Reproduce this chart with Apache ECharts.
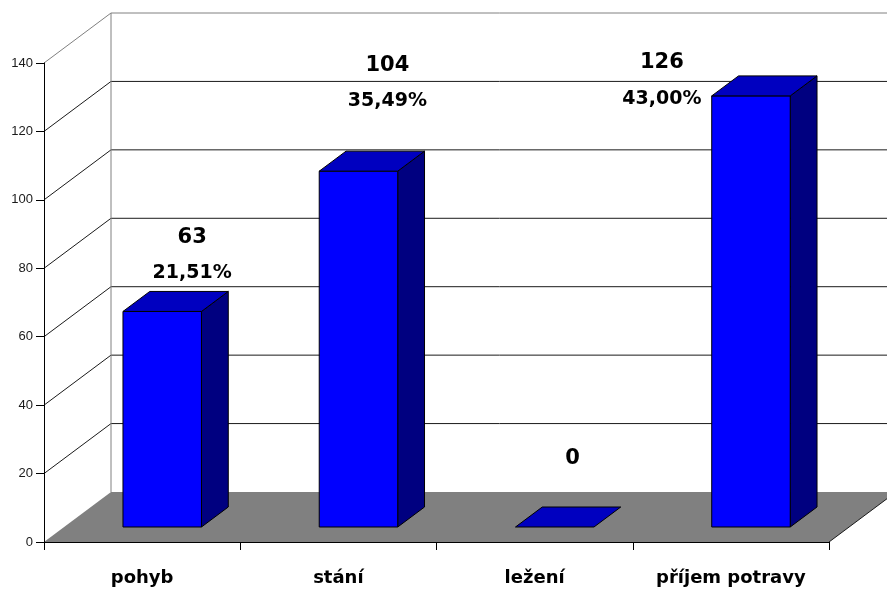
<!DOCTYPE html>
<html>
<head>
<meta charset="utf-8">
<script src="https://cdn.jsdelivr.net/npm/echarts@6/dist/echarts.min.js"></script>
<style>
  html, body { margin: 0; padding: 0; background: #ffffff; }
  #chart { width: 887px; height: 590px; }
</style>
</head>
<body>
<div id="chart"></div>
<script>
// Activity counts
const categories = ['pohyb', 'stání', 'ležení', 'příjem potravy'];
const counts = [63, 104, 0, 126];
const shares = [21.51, 35.49, null, 43.00];
const yTicks = [0, 20, 40, 60, 80, 100, 120, 140];

// Oblique depth projection: a full step back moves right and up
const DEPTH_X = 67, DEPTH_Y = -50;
const BAR_FRONT = 0.3, BAR_BACK = 0.7;   // depth fractions of bar faces
const BAR_HALF = 0.2;                     // half bar width, in band widths
// Label placement relative to the front-top centre of each bar
const labelShift = [[50, -89], [49, -121], [38, -83], [-69, -48]];
const shareGap = 36;

const LABEL_FONT = '"Comic Sans MS", "DejaVu Sans", sans-serif';

function fmtShare(p) {
  return p.toFixed(2).replace('.', ',') + '%';
}

function renderWalls(params, api) {
  const band = api.size([1, 0])[0];
  const left = api.coord([0, 0])[0] - band / 2;
  const right = api.coord([categories.length - 1, 0])[0] + band / 2;
  const y0 = api.coord([0, 0])[1];
  const yTop = api.coord([0, yTicks[yTicks.length - 1]])[1];
  const dx = DEPTH_X, dy = DEPTH_Y;
  const children = [];

  // back wall
  children.push({
    type: 'polygon',
    shape: { points: [[left + dx, yTop + dy], [right + dx, yTop + dy], [right + dx, y0 + dy], [left + dx, y0 + dy]] },
    style: { fill: '#ffffff' }
  });
  // side wall
  children.push({
    type: 'polygon',
    shape: { points: [[left, y0], [left, yTop], [left + dx, yTop + dy], [left + dx, y0 + dy]] },
    style: { fill: '#ffffff' }
  });
  // floor
  children.push({
    type: 'polygon',
    shape: { points: [[left, y0], [right, y0], [right + dx, y0 + dy], [left + dx, y0 + dy]] },
    style: { fill: '#808080' }
  });
  // grid lines across side wall and back wall
  yTicks.forEach(function (t) {
    if (t === 0) return;
    const y = api.coord([0, t])[1];
    const isTop = t === yTicks[yTicks.length - 1];
    const col = isTop ? '#808080' : '#1a1a1a';
    children.push({
      type: 'polyline',
      shape: { points: [[left, y], [left + dx, y + dy], [right + dx, y + dy]] },
      style: { stroke: col, lineWidth: 1, fill: null }
    });
  });
  // back wall left edge
  children.push({
    type: 'line',
    shape: { x1: left + dx, y1: yTop + dy, x2: left + dx, y2: y0 + dy },
    style: { stroke: '#808080', lineWidth: 1 }
  });
  // floor right edge
  children.push({
    type: 'line',
    shape: { x1: right, y1: y0, x2: right + dx, y2: y0 + dy },
    style: { stroke: '#1a1a1a', lineWidth: 1 }
  });
  return { type: 'group', children: children };
}

function renderBar(params, api) {
  const i = api.value(0);
  const v = api.value(1);
  const band = api.size([1, 0])[0];
  const top = api.coord([i, v]);
  const cx = top[0], yv = top[1];
  const yb = api.coord([i, 0])[1];
  const hw = band * BAR_HALF;
  const fx = DEPTH_X * BAR_FRONT, fy = DEPTH_Y * BAR_FRONT;
  const sx = DEPTH_X * (BAR_BACK - BAR_FRONT), sy = DEPTH_Y * (BAR_BACK - BAR_FRONT);
  const xl = cx - hw + fx, xr = cx + hw + fx;
  const yt = yv + fy, ybot = yb + fy;
  const edge = { stroke: '#000000', lineWidth: 1 };
  const children = [];

  if (v > 0) {
    children.push({
      type: 'polygon',
      shape: { points: [[xr, yt], [xr + sx, yt + sy], [xr + sx, ybot + sy], [xr, ybot]] },
      style: Object.assign({ fill: '#000080' }, edge)
    });
    children.push({
      type: 'polygon',
      shape: { points: [[xl, yt], [xr, yt], [xr, ybot], [xl, ybot]] },
      style: Object.assign({ fill: '#0000ff' }, edge)
    });
  }
  children.push({
    type: 'polygon',
    shape: { points: [[xl, yt], [xr, yt], [xr + sx, yt + sy], [xl + sx, yt + sy]] },
    style: Object.assign({ fill: '#0000c0' }, edge)
  });

  const lx = cx + labelShift[i][0];
  const ly = yv + labelShift[i][1];
  children.push({
    type: 'text',
    style: {
      text: String(v), x: lx, y: ly, align: 'center', verticalAlign: 'middle',
      fontFamily: LABEL_FONT, fontWeight: 'bold', fontSize: 21, fill: '#000000'
    }
  });
  if (shares[i] != null) {
    children.push({
      type: 'text',
      style: {
        text: fmtShare(shares[i]), x: lx, y: ly + shareGap, align: 'center', verticalAlign: 'middle',
        fontFamily: LABEL_FONT, fontWeight: 'bold', fontSize: 19, fill: '#000000'
      }
    });
  }
  return { type: 'group', children: children };
}

const chart = echarts.init(document.getElementById('chart'), null, { renderer: 'canvas' });
chart.setOption({
  animation: false,
  backgroundColor: '#ffffff',
  grid: { left: 44, right: 58, top: 63, bottom: 48, containLabel: false, outerBoundsMode: 'none' },
  xAxis: {
    type: 'category',
    data: categories,
    z: 10,
    axisLine: { show: true, lineStyle: { color: '#000000', width: 1 } },
    axisTick: { show: true, length: 8, lineStyle: { color: '#000000' } },
    axisLabel: {
      margin: 27, color: '#000000', fontFamily: LABEL_FONT, fontWeight: 'bold', fontSize: 18
    },
    splitLine: { show: false }
  },
  yAxis: {
    type: 'value',
    min: 0, max: 140, interval: 20,
    z: 10,
    axisLine: { show: true, lineStyle: { color: '#000000', width: 1 } },
    axisTick: { show: true, length: 8, lineStyle: { color: '#000000' } },
    axisLabel: { margin: 11, color: '#1a1a1a', fontFamily: '"Liberation Sans", Arial, sans-serif', fontSize: 13 },
    splitLine: { show: false }
  },
  series: [
    {
      type: 'custom',
      name: 'walls',
      z: 1,
      silent: true,
      clip: false,
      data: [[0, 0]],
      renderItem: renderWalls
    },
    {
      type: 'custom',
      name: 'počet',
      z: 3,
      clip: false,
      data: counts.map(function (v, i) { return [i, v]; }),
      renderItem: renderBar
    }
  ]
});
</script>
</body>
</html>
